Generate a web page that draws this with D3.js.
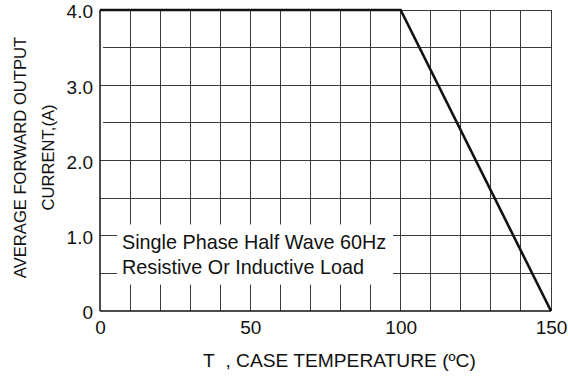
<!DOCTYPE html>
<html>
<head>
    <meta charset="utf-8">
    <style>
        body { margin: 0; background: #fff; }
        svg { font-family: "Liberation Sans", Arial, sans-serif; }
        .grid line { stroke: #3a3a3a; stroke-width: 1px; shape-rendering: crispEdges; }
        .axis path, .axis line { display: none; }
        .axis text { font-size: 19px; fill: #111; }
        path.line { fill: none; stroke: #111; stroke-width: 2.6px; }
    </style>
    <script src="https://d3js.org/d3.v7.min.js"></script>
</head>
<body>
<div id="graph"></div>
<script>
    // derating curve
    var caseTemp = [0, 100, 150];
    var outCurrent = [4.0, 4.0, 0];
    var xTickValues = [0, 50, 100, 150];
    var yTickValues = [0, 1, 2, 3, 4];
    var yTickLabels = ["0", "1.0", "2.0", "3.0", "4.0"];
    var xGridValues = [10, 20, 30, 40, 50, 60, 70, 80, 90, 100, 110, 120, 130, 140, 150];
    var yGridValues = [0.5, 1, 1.5, 2, 2.5, 3, 3.5, 4];
    var noteLines = ["Single Phase Half Wave 60Hz", "Resistive Or Inductive Load"];

    var W = 568, H = 377;
    var margin = { top: 10, right: 17, bottom: 66, left: 100 };
    var width = W - margin.left - margin.right;
    var height = H - margin.top - margin.bottom;

    var svg = d3.select("#graph").append("svg")
        .attr("width", W)
        .attr("height", H)
        .append("g")
        .attr("transform", "translate(" + margin.left + "," + margin.top + ")");

    var x = d3.scaleLinear().domain([0, 150]).range([0, width]);
    var y = d3.scaleLinear().domain([0, 4]).range([height, 0]);

    var grid = svg.append("g").attr("class", "grid");
    grid.selectAll(".vg").data(xGridValues).enter().append("line")
        .attr("x1", function(d) { return x(d); })
        .attr("x2", function(d) { return x(d); })
        .attr("y1", 0).attr("y2", height);
    grid.selectAll(".hg").data(yGridValues).enter().append("line")
        .attr("x1", function(d) { return (d === 3.5 || d === 2.5) ? 3 : 0; })
        .attr("x2", width)
        .attr("y1", function(d) { return y(d); })
        .attr("y2", function(d) { return y(d); });

    // white note box that cuts the grid
    var boxL = 17, boxR = 293, boxT = y(1.15), boxB = y(0.35);
    svg.append("rect")
        .attr("x", boxL).attr("y", boxT)
        .attr("width", boxR - boxL).attr("height", boxB - boxT)
        .attr("fill", "#fff");

    svg.selectAll(".note").data(noteLines).enter().append("text")
        .attr("x", 22)
        .attr("y", function(d, i) { return boxT + 25 + i * 25; })
        .attr("font-size", "19.8px")
        .attr("fill", "#111")
        .text(function(d) { return d; });

    // axes frame
    svg.append("line").attr("x1", 0).attr("x2", 0).attr("y1", 0).attr("y2", height)
        .attr("stroke", "#111").attr("stroke-width", 1.5);
    svg.append("line").attr("x1", 0).attr("x2", width).attr("y1", height).attr("y2", height)
        .attr("stroke", "#111").attr("stroke-width", 1.5);

    var line = d3.line()
        .x(function(d, i) { return x(caseTemp[i]); })
        .y(function(d) { return y(d); });

    svg.append("path")
        .datum(outCurrent)
        .attr("class", "line")
        .attr("d", line);

    var xAxis = d3.axisBottom(x).tickValues(xTickValues).tickSize(0).tickPadding(10)
        .tickFormat(d3.format("d"));
    svg.append("g")
        .attr("class", "x axis")
        .attr("transform", "translate(0," + height + ")")
        .call(xAxis);

    var yAxis = d3.axisLeft(y).tickValues(yTickValues).tickSize(0).tickPadding(7)
        .tickFormat(function(d, i) { return yTickLabels[i]; });
    svg.append("g")
        .attr("class", "y axis")
        .call(yAxis)
        .selectAll("text").attr("dy", "0.42em").attr("font-size", "18.5px");

    svg.append("text")
        .attr("x", 103)
        .attr("y", height + 56)
        .attr("font-size", "19.2px")
        .attr("fill", "#111")
        .text("T\u00a0\u00a0, CASE TEMPERATURE (ºC)");

    var yTitle = svg.append("g")
        .attr("transform", "translate(" + (-margin.left) + "," + (height / 2 - 3) + ") rotate(-90)");
    yTitle.append("text")
        .attr("x", 0).attr("y", 26)
        .attr("text-anchor", "middle")
        .attr("font-size", "16.6px")
        .attr("fill", "#111")
        .text("AVERAGE FORWARD OUTPUT");
    yTitle.append("text")
        .attr("x", 0).attr("y", 54)
        .attr("text-anchor", "middle")
        .attr("font-size", "16.6px")
        .attr("fill", "#111")
        .text("CURRENT,(A)");
</script>
</body>
</html>
